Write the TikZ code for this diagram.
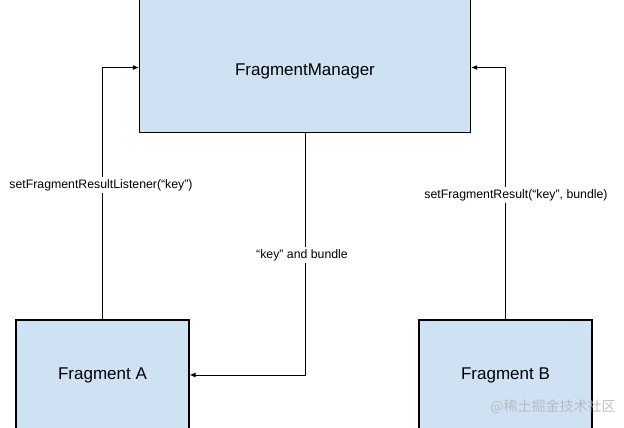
\documentclass[tikz,border=0pt]{standalone}
\usepackage{fontspec}
\setmainfont{Liberation Sans}
\newfontfamily\cjk{Noto Sans CJK SC}
\usetikzlibrary{arrows.meta}
\definecolor{boxblue}{HTML}{CFE2F3}
\tikzset{
  frag/.style={draw=black, line width=1.1pt, fill=boxblue, inner sep=0pt, font=\fontsize{17}{20}\selectfont},
  flow/.style={draw=black, line width=1pt, -{Latex[length=6pt,width=5pt]}},
  lbl/.style={fill=white, inner sep=2pt, font=\fontsize{12.3}{14}\selectfont},
}
\begin{document}
\begin{tikzpicture}[x=1pt,y=-1pt]
\useasboundingbox (0,0) rectangle (624,428);
\node[frag, minimum width=331pt, minimum height=134pt, text height=22pt, text depth=3pt] (fm) at (305,65.5) {FragmentManager};
\node[frag, minimum width=173pt, minimum height=110pt] (fa) at (102.5,375) {Fragment A};
\node[frag, minimum width=173pt, minimum height=110pt] (fb) at (505.5,375) {Fragment B};
\draw[flow] (fa.north) |- ([yshift=-2pt]fm.west);
\draw[flow] (fb.north) |- ([yshift=-2pt]fm.east);
\draw[flow] (fm.south) |- (fa.east);
\node[lbl] (lstn) at (101,185) {setFragmentResultListener(“key”)};
\node[lbl] (rslt) at (516,195) {setFragmentResult(“key”, bundle)};
\node[lbl] (kb) at (302,255) {“key” and bundle};
\node[font=\cjk\fontsize{14}{16}\selectfont, text=gray!60, opacity=0.8] (wm) at (553,407) {@稀土掘金技术社区};
\end{tikzpicture}
\end{document}
